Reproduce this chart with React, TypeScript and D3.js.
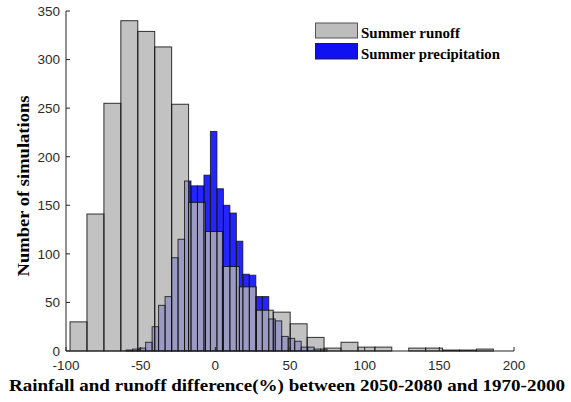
import React from "react";
import * as d3 from "d3";

// Histogram of simulated summer changes (%), two overlaid series.
const runoffBinStart = -97.3;
const runoffBinWidth = 11.34;
const runoffCounts = [
  30, 141, 255, 340, 329, 313, 254, 153, 123, 87, 66, 42, 40, 28, 14, 3, 9, 4, 4, 0, 3, 3, 1, 1, 2,
];

const precipBinStart = -59.7;
const precipBinWidth = 4.34;
const precipCounts = [
  1, 2, 3, 9, 25, 47, 56, 96, 115, 175, 170, 170, 181, 226, 167, 150, 142, 113, 79, 78, 56, 56, 33,
  31, 15, 13, 10, 4, 4, 2, 2,
];

const xTicks = [-100, -50, 0, 50, 100, 150, 200];
const yTicks = [0, 50, 100, 150, 200, 250, 300, 350];

const seriesNames = ["Summer runoff", "Summer precipitation"];
const xTitle = "Rainfall and runoff difference(%) between 2050-2080 and 1970-2000";
const yTitle = "Number of simulations";

const W = 571;
const H = 402;
const margin = { left: 66, right: 57, top: 11, bottom: 51 };

const serif = "'Liberation Serif', 'Times New Roman', serif";
const sans = "'Liberation Sans', Arial, sans-serif";

type Bin = { x0: number; x1: number; count: number };

function toBins(start: number, width: number, counts: number[]): Bin[] {
  return counts.map((count, i) => ({
    x0: start + i * width,
    x1: start + (i + 1) * width,
    count,
  }));
}

export default function App() {
  const x = d3.scaleLinear().domain([-100, 200]).range([margin.left, W - margin.right]);
  const y = d3.scaleLinear().domain([0, 350]).range([H - margin.bottom, margin.top]);

  const runoff = toBins(runoffBinStart, runoffBinWidth, runoffCounts);
  const precip = toBins(precipBinStart, precipBinWidth, precipCounts);

  const blue = "#2424ff";
  const gray = "#b4b4b4";
  const grayOpacity = 0.82;
  const edge = "#111";

  const rectOf = (b: Bin) => ({
    x: x(b.x0),
    y: y(b.count),
    width: x(b.x1) - x(b.x0),
    height: y(0) - y(b.count),
  });

  return (
    <svg
      width={W}
      height={H}
      style={{ position: "absolute", left: 0, top: 0, background: "#fff" }}
    >
      {/* precipitation fills */}
      <g>
        {precip.map((b, i) => (
          <rect key={i} {...rectOf(b)} fill={blue} />
        ))}
      </g>
      {/* runoff fills, semi-transparent over precipitation */}
      <g>
        {runoff.map((b, i) => (
          <rect key={i} {...rectOf(b)} fill={gray} fillOpacity={grayOpacity} />
        ))}
      </g>
      {/* outlines */}
      <g fill="none" stroke={edge} strokeWidth={1} strokeOpacity={0.8}>
        {precip.map((b, i) => (
          <rect key={i} {...rectOf(b)} />
        ))}
      </g>
      <g fill="none" stroke={edge} strokeWidth={1} strokeOpacity={0.85}>
        {runoff.map((b, i) => (
          <rect key={i} {...rectOf(b)} />
        ))}
      </g>

      {/* axes */}
      <g stroke="#222" strokeWidth={1}>
        <line x1={x(-100)} x2={x(-100)} y1={y(350)} y2={y(0)} />
        <line x1={x(-100)} x2={x(200)} y1={y(0)} y2={y(0)} />
        {yTicks.map((t) => (
          <line key={t} x1={x(-100)} x2={x(-100) + 4} y1={y(t)} y2={y(t)} />
        ))}
        {xTicks.map((t) => (
          <line key={t} x1={x(t)} x2={x(t)} y1={y(0)} y2={y(0) - 4} />
        ))}
      </g>
      <g fontFamily={sans} fontSize={13.5} fill="#2a2a2a">
        {yTicks.map((t) => (
          <text key={t} x={x(-100) - 6} y={y(t)} dy="0.36em" textAnchor="end">
            {t}
          </text>
        ))}
        {xTicks.map((t) => (
          <text key={t} x={x(t)} y={y(0) + 19} textAnchor="middle">
            {t}
          </text>
        ))}
      </g>

      {/* axis titles */}
      <text
        x={287}
        y={391}
        textAnchor="middle"
        fontFamily={serif}
        fontWeight="bold"
        fontSize={17.5}
        textLength={556}
        lengthAdjust="spacingAndGlyphs"
        fill="#000"
      >
        {xTitle}
      </text>
      <text
        transform={`translate(28.5, ${186}) rotate(-90)`}
        textAnchor="middle"
        fontFamily={serif}
        fontWeight="bold"
        fontSize={17}
        textLength={181}
        lengthAdjust="spacingAndGlyphs"
        fill="#000"
      >
        {yTitle}
      </text>

      {/* legend */}
      <g fontFamily={serif} fontWeight="bold" fontSize={14.5} fill="#000">
        <rect x={315.5} y={23} width={42} height={15} fill="#bdbdbd" stroke="#555" />
        <rect x={315.5} y={43.5} width={42} height={15.5} fill="#1010f0" stroke="#1a1a60" />
        <text x={361} y={38} textLength={99} lengthAdjust="spacingAndGlyphs">
          {seriesNames[0]}
        </text>
        <text x={361} y={58.5} textLength={139} lengthAdjust="spacingAndGlyphs">
          {seriesNames[1]}
        </text>
      </g>
    </svg>
  );
}
